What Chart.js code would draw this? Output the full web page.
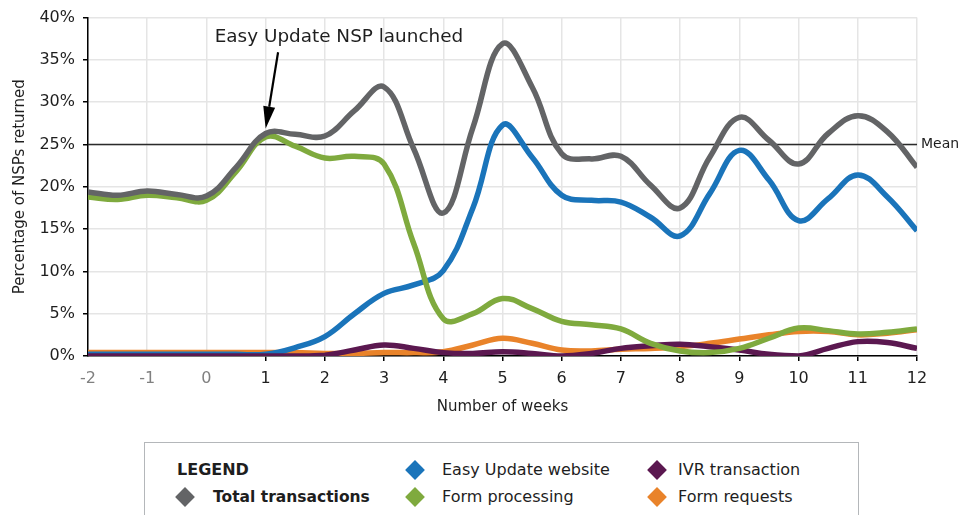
<!DOCTYPE html>
<html>
<head>
<meta charset="utf-8">
<script src="https://cdn.jsdelivr.net/npm/chart.js@4/dist/chart.umd.min.js"></script>
<style>
    body { margin: 0; background: #fff; font-family: "DejaVu Sans", sans-serif; color: #1e1e1e; }
    #wrap { position: relative; width: 973px; height: 515px; overflow: hidden; }
    #legend { position: absolute; left: 144px; top: 442px; width: 715px; height: 120px; border: 1.5px solid #b4b7ba; box-sizing: border-box; }
    .lg { position: absolute; font-size: 16px; line-height: 20px; white-space: nowrap; transform: translateY(-50%); }
    .lg.bold { font-weight: bold; }
    .dia { position: absolute; width: 14px; height: 14px; transform: translate(-50%, -50%) rotate(45deg); }
</style>
</head>
<body>
<div id="wrap">
    <canvas id="chart" width="973" height="430"></canvas>
    <div id="legend"></div>
</div>
<script>
const weeks = [-2, -1.5, -1, -0.5, 0, 0.5, 1, 1.5, 2, 2.5, 3, 3.5, 4, 4.5, 5, 5.5, 6, 6.5, 7, 7.5, 8, 8.5, 9, 9.5, 10, 10.5, 11, 11.5, 12];

const total = [19.4, 19.0, 19.5, 19.1, 18.9, 22.3, 26.3, 26.2, 26.0, 29.0, 31.8, 24.5, 16.9, 27.0, 36.9, 31.8, 23.9, 23.3, 23.6, 20.2, 17.5, 23.5, 28.2, 25.5, 22.7, 26.3, 28.4, 26.5, 22.3];
const easyUpdate = [0.2, 0.2, 0.2, 0.2, 0.2, 0.2, 0.2, 1.0, 2.3, 5.0, 7.4, 8.4, 10.1, 17.5, 27.3, 23.5, 19.0, 18.4, 18.2, 16.4, 14.2, 19.2, 24.3, 20.8, 16.0, 18.6, 21.4, 18.8, 14.8];
const formProcessing = [18.8, 18.5, 19.0, 18.7, 18.4, 21.8, 25.9, 24.8, 23.4, 23.6, 22.7, 13.3, 4.4, 5.0, 6.8, 5.6, 4.1, 3.7, 3.2, 1.5, 0.6, 0.4, 0.9, 2.1, 3.3, 3.0, 2.6, 2.8, 3.2];
const ivr = [0, 0, 0, 0, 0, 0, 0, 0, 0.1, 0.7, 1.3, 0.9, 0.4, 0.3, 0.5, 0.3, 0, 0.3, 0.9, 1.2, 1.4, 1.1, 0.7, 0.2, 0, 0.9, 1.7, 1.6, 0.9];
const formRequests = [0.4, 0.4, 0.4, 0.4, 0.4, 0.4, 0.4, 0.4, 0.3, 0.3, 0.4, 0.4, 0.5, 1.3, 2.1, 1.5, 0.7, 0.6, 0.8, 0.9, 1.1, 1.5, 2.0, 2.5, 2.9, 2.9, 2.5, 2.7, 3.1];

const meanValue = 25;
const yTicks = [0, 5, 10, 15, 20, 25, 30, 35, 40];
const launchNote = 'Easy Update NSP launched';
const launchWeek = 1;

const colors = {
    total: '#636466',
    easyUpdate: '#1a74ba',
    formProcessing: '#7faa3e',
    ivr: '#5b1850',
    formRequests: '#e9832a'
};

const toPoints = (values) => values.map((v, i) => ({ x: weeks[i], y: v }));

function series(label, values, color) {
    return {
        label,
        data: toPoints(values),
        borderColor: color,
        backgroundColor: color,
        borderWidth: 5.5,
        pointRadius: 0,
        tension: 0.4,
        fill: false
    };
}

// first dataset is drawn on top
const datasets = [
    series('Total transactions', total, colors.total),
    series('Form processing', formProcessing, colors.formProcessing),
    series('IVR transaction', ivr, colors.ivr),
    series('Easy Update website', easyUpdate, colors.easyUpdate),
    series('Form requests', formRequests, colors.formRequests),
    {
        label: 'Mean',
        data: [{ x: weeks[0], y: meanValue }, { x: weeks[weeks.length - 1], y: meanValue }],
        borderColor: '#2b2b2b',
        borderWidth: 1.5,
        pointRadius: 0,
        tension: 0
    }
];

const notes = {
    id: 'notes',
    afterDatasetsDraw(chart) {
        const { ctx, chartArea, scales: { x, y } } = chart;
        ctx.save();

        // mean label
        ctx.font = '14px "DejaVu Sans"';
        ctx.fillStyle = '#1e1e1e';
        ctx.textAlign = 'left';
        ctx.textBaseline = 'middle';
        ctx.fillText('Mean', chartArea.right + 4, y.getPixelForValue(meanValue));

        // launch annotation
        ctx.font = '18.4px "DejaVu Sans"';
        ctx.textBaseline = 'alphabetic';
        ctx.fillText(launchNote, x.getPixelForValue(0.14), y.getPixelForValue(37.1));

        let x0 = x.getPixelForValue(launchWeek + 0.21), y0 = y.getPixelForValue(35.9);
        let x1 = x.getPixelForValue(launchWeek), y1 = y.getPixelForValue(26.9);
        let ang = Math.atan2(y1 - y0, x1 - x0);
        let head = 22, half = 6;
        let bx = x1 - head * Math.cos(ang), by = y1 - head * Math.sin(ang);

        ctx.strokeStyle = '#000';
        ctx.lineWidth = 2.2;
        ctx.beginPath();
        ctx.moveTo(x0, y0);
        ctx.lineTo(bx, by);
        ctx.stroke();

        ctx.fillStyle = '#000';
        ctx.beginPath();
        ctx.moveTo(x1, y1);
        ctx.lineTo(bx + half * Math.sin(ang), by - half * Math.cos(ang));
        ctx.lineTo(bx - half * Math.sin(ang), by + half * Math.cos(ang));
        ctx.closePath();
        ctx.fill();

        ctx.restore();
    }
};

new Chart(document.getElementById('chart'), {
    type: 'line',
    data: { datasets },
    plugins: [notes],
    options: {
        responsive: false,
        animation: false,
        devicePixelRatio: 1,
        layout: { padding: { top: 17, right: 56, bottom: 0, left: 0 } },
        plugins: {
            legend: { display: false },
            tooltip: { enabled: false }
        },
        scales: {
            x: {
                type: 'linear',
                min: weeks[0],
                max: weeks[weeks.length - 1],
                afterFit: (scale) => { scale.height = 74; },
                ticks: {
                    stepSize: 1,
                    padding: 8,
                    font: { family: 'DejaVu Sans', size: 16 },
                    color: (c) => c.tick.value <= 0 ? '#808080' : '#1e1e1e'
                },
                grid: {
                    color: '#e5e5e5',
                    lineWidth: 1.5,
                    tickLength: 5,
                    tickColor: (c) => c.tick.value <= 0 ? 'rgba(0,0,0,0)' : '#000'
                },
                border: { color: '#000', width: 1.5 },
                title: {
                    display: true,
                    text: 'Number of weeks',
                    font: { family: 'DejaVu Sans', size: 15 },
                    color: '#1e1e1e',
                    padding: { top: 0, bottom: 14 }
                }
            },
            y: {
                min: yTicks[0],
                max: yTicks[yTicks.length - 1],
                afterFit: (scale) => { scale.width = 88; },
                afterBuildTicks: (scale) => { scale.ticks = yTicks.map(v => ({ value: v })); },
                ticks: {
                    padding: 8,
                    font: { family: 'DejaVu Sans', size: 16 },
                    color: '#1e1e1e',
                    callback: (v) => v + '%'
                },
                grid: { color: '#e5e5e5', lineWidth: 1.5, tickLength: 5, tickColor: '#000' },
                border: { color: '#000', width: 1.5 },
                title: {
                    display: true,
                    text: 'Percentage of NSPs returned',
                    font: { family: 'DejaVu Sans', size: 15 },
                    color: '#1e1e1e',
                    padding: { top: 11, bottom: 0 }
                }
            }
        }
    }
});

// legend box below the chart
const legendItems = [
    { label: 'LEGEND', bold: true, x: 32, y: 27 },
    { label: 'Total transactions', color: colors.total, bold: true, x: 68, y: 54, dx: 28, size: 15.5 },
    { label: 'Easy Update website', color: colors.easyUpdate, x: 297, y: 27, dx: 27 },
    { label: 'Form processing', color: colors.formProcessing, x: 297, y: 54, dx: 27 },
    { label: 'IVR transaction', color: colors.ivr, x: 533, y: 27, dx: 21 },
    { label: 'Form requests', color: colors.formRequests, x: 533, y: 54, dx: 21 }
];

const legend = document.getElementById('legend');
legendItems.forEach((item) => {
    if (item.color) {
        let d = document.createElement('div');
        d.className = 'dia';
        d.style.left = (item.x - item.dx) + 'px';
        d.style.top = item.y + 'px';
        d.style.background = item.color;
        legend.appendChild(d);
    }
    let t = document.createElement('div');
    t.className = 'lg' + (item.bold ? ' bold' : '');
    t.textContent = item.label;
    t.style.left = item.x + 'px';
    t.style.top = item.y + 'px';
    if (item.size) { t.style.fontSize = item.size + 'px'; }
    legend.appendChild(t);
});
</script>
</body>
</html>
